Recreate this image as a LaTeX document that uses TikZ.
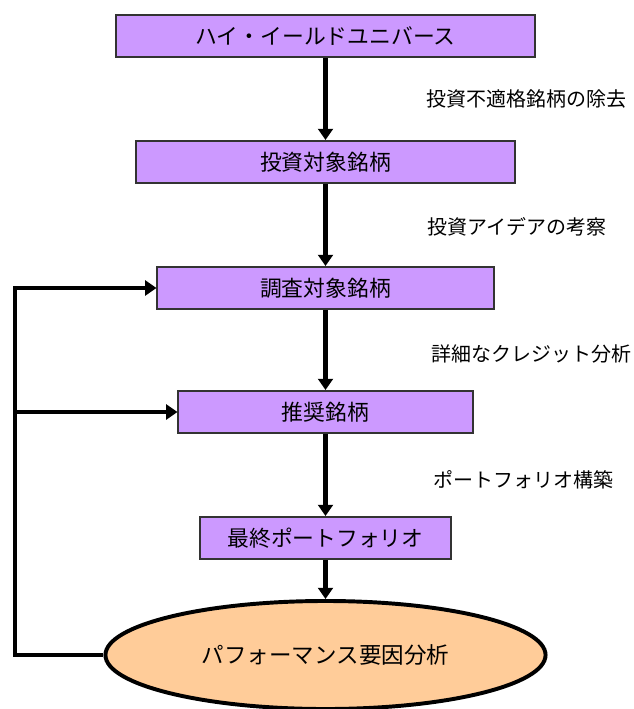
\documentclass[tikz,border=0pt]{standalone}
\usepackage{fontspec}
\setmainfont{Noto Sans CJK JP}
\usepackage{tikz}
\usetikzlibrary{shapes.geometric, arrows.meta, calc}
\definecolor{stagepurple}{HTML}{CC99FF}
\definecolor{perforange}{HTML}{FFCC99}
\definecolor{boxline}{HTML}{333333}

\begin{document}
\begin{tikzpicture}[x=0.025cm, y=-0.025cm,
	stagebox/.style={draw=boxline, line width=1.4pt, fill=stagepurple, minimum height=1.05cm, inner sep=0pt, font=\fontsize{15.5}{18}\selectfont},
	perfellipse/.style={ellipse, draw=black, line width=2.8pt, fill=perforange, minimum width=11cm, minimum height=2.7cm, inner sep=0pt, font=\fontsize{16}{19}\selectfont},
	steplabel/.style={anchor=west, inner sep=0pt, font=\fontsize{14.2}{17}\selectfont},
	flow/.style={line width=3.4pt, -{Triangle[length=8pt, width=10.5pt]}}]
				\useasboundingbox (0,0) rectangle (633,709);
				
				\node [stagebox, minimum width=10.475cm] (universe) at (325.5,36) {ハイ・イールドユニバース};
				\node [stagebox, minimum width=9.45cm] (invest) at (325.5,162) {投資対象銘柄};
				\node [stagebox, minimum width=8.4cm] (research) at (325.5,288) {調査対象銘柄};
				\node [stagebox, minimum width=7.35cm] (recommend) at (325.5,412) {推奨銘柄};
				\node [stagebox, minimum width=6.275cm] (final) at (325.5,538) {最終ポートフォリオ};
				\node [perfellipse] (perf) at (325.5,655) {パフォーマンス要因分析};
				
				\foreach \a/\b in {universe/invest, invest/research, research/recommend, recommend/final, final/perf}
				\draw [flow] (\a) -- (\b);
				
				\node [steplabel] (l1) at (426,99) {投資不適格銘柄の除去};
				\node [steplabel] (l2) at (427,227) {投資アイデアの考察};
				\node [steplabel] (l3) at (431,354) {詳細なクレジット分析};
				\node [steplabel] (l4) at (433,480) {ポートフォリオ構築};
				
				% feedback loop
				\coordinate (turn) at (15,655);
				\draw [flow] (perf.west) -- (turn) |- (research.west);
				\draw [flow] (turn |- recommend.west) -- (recommend.west);
				\end{tikzpicture}
\end{document}
